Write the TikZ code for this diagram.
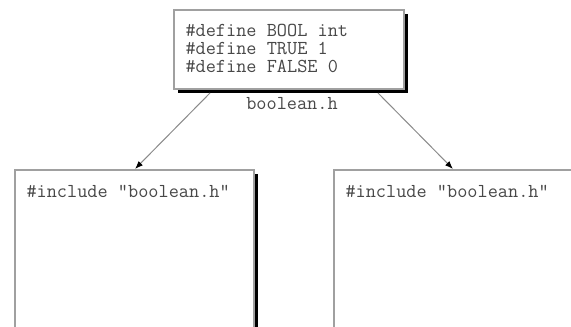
\documentclass[tikz,border=0pt]{standalone}
\usepackage{fontspec}
\usetikzlibrary{arrows.meta}

\definecolor{boxline}{HTML}{A0A0A0}
\definecolor{arrline}{HTML}{8A8A8A}
\definecolor{codetext}{HTML}{484848}

\tikzset{every picture/.style={line width=0.75pt}}
\tikzset{
  filebox/.style={draw=boxline, fill=white, line width=1pt},
  fileshadow/.style={fill=black, draw=none},
  codeline/.style={anchor=base west, inner sep=0pt, text=codetext, font=\ttfamily\fontsize{14.8}{17}\selectfont},
  incarrow/.style={draw=arrline, line width=0.75pt, -{Latex[length=6pt,width=4.5pt,color=black]}}
}

\begin{document}
\begin{tikzpicture}[x=0.75pt,y=0.75pt,yscale=-1,xscale=1]
\useasboundingbox (0,0) rectangle (571,327);
\clip (0,0) rectangle (571,327);
%Shape: Rectangle [id:header shadow]
\fill[fileshadow] (178,14) rectangle (408,93);
%Shape: Rectangle [id:header box]
\draw[filebox] (174,10) rectangle (404,89);
%Shape: Rectangle [id:left shadow]
\fill[fileshadow] (19,174) rectangle (258,340);
%Shape: Rectangle [id:left box]
\draw[filebox] (15,170) rectangle (254,345);
%Shape: Rectangle [id:right shadow]
\fill[fileshadow] (338,174) rectangle (590,340);
%Shape: Rectangle [id:right box]
\draw[filebox] (334,170) rectangle (586,345);
% Text Node
\node[codeline] (defbool) at (185,37) {\#define BOOL int};
% Text Node
\node[codeline] (deftrue) at (185,55) {\#define TRUE 1};
% Text Node
\node[codeline] (deffalse) at (185,73) {\#define FALSE 0};
% Text Node
\node[codeline, anchor=base] (hname) at (292,110) {boolean.h};
% Text Node
\node[codeline] (incleft) at (26,198) {\#include "boolean.h"};
% Text Node
\node[codeline] (incright) at (345,198) {\#include "boolean.h"};
%Straight Lines [id:arrow to left file]
\coordinate (fromleft) at (210,93);
\coordinate (toleft) at (135,169);
\draw[incarrow] (fromleft) -- (toleft);
%Straight Lines [id:arrow to right file]
\coordinate (fromright) at (378,93);
\coordinate (toright) at (453,169);
\draw[incarrow] (fromright) -- (toright);
\end{tikzpicture}
\end{document}
